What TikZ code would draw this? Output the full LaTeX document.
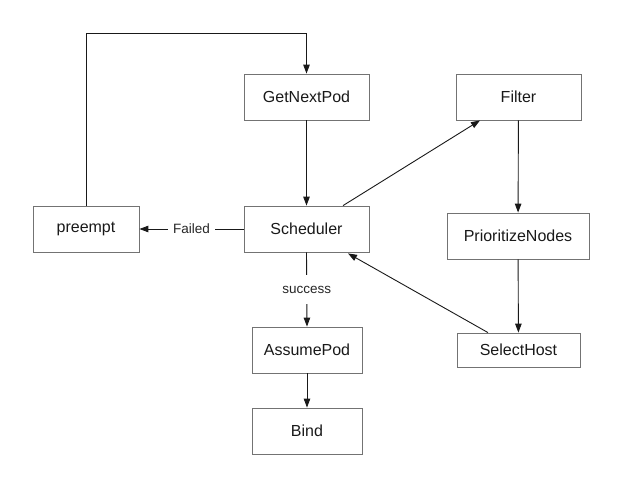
\documentclass[tikz,border=0pt]{standalone}
\usepackage{fontspec}
\setmainfont{Liberation Sans}
\usetikzlibrary{arrows.meta,calc}
\begin{document}
\begin{tikzpicture}[x=1pt,y=-1pt,
  box/.style={draw=black!55,line width=0.8pt,minimum height=46pt,inner sep=0pt,font=\fontsize{16}{18}\selectfont,text=black!90},
  conn/.style={draw=black!90,line width=0.9pt,-{Triangle[length=9pt,width=6.5pt]}},
  lab/.style={fill=white,inner xsep=5pt,inner ysep=3pt,font=\fontsize{13.5}{15}\selectfont,text=black!85}]
\useasboundingbox (0,0) rectangle (622,487);
\node[box,minimum width=125pt] (get) at (306.5,97) {GetNextPod};
\node[box,minimum width=125pt] (filter) at (518.5,97) {Filter};
\node[box,minimum width=125pt] (sched) at (306.5,229) {Scheduler};
\node[box,minimum width=106pt] (pre) at (86,229) {preempt};
\node[box,minimum width=142pt] (prio) at (518,236) {PrioritizeNodes};
\node[box,minimum width=123pt,minimum height=34pt] (sel) at (518.5,350) {SelectHost};
\node[box,minimum width=110pt] (assume) at (307,350) {AssumePod};
\node[box,minimum width=110pt] (bind) at (307,431) {Bind};
\coordinate (c1) at (pre.north |- 0,33);
\coordinate (c2) at (get.north |- 0,33);
\draw[conn] (pre.north) -- (c1) -- (c2) -- (get.north);
\draw[conn] (get) -- (sched);
\draw[conn] ($(sched.north)+(36.5,0)$) -- ($(filter.south)+(-38.5,0)$);
\draw[conn] (filter) -- (prio);
\draw[conn] (prio) -- (sel);
\draw[conn] ($(sel.north)+(-30.5,0)$) -- ($(sched.south)+(41.5,1)$);
\draw[conn] (sched.west) -- node[lab] {Failed} (pre.east);
\draw[conn] (sched.south) -- node[lab,inner ysep=11pt,pos=0.5] {success} (assume.north);
\draw[conn] (assume) -- (bind);
\end{tikzpicture}
\end{document}
